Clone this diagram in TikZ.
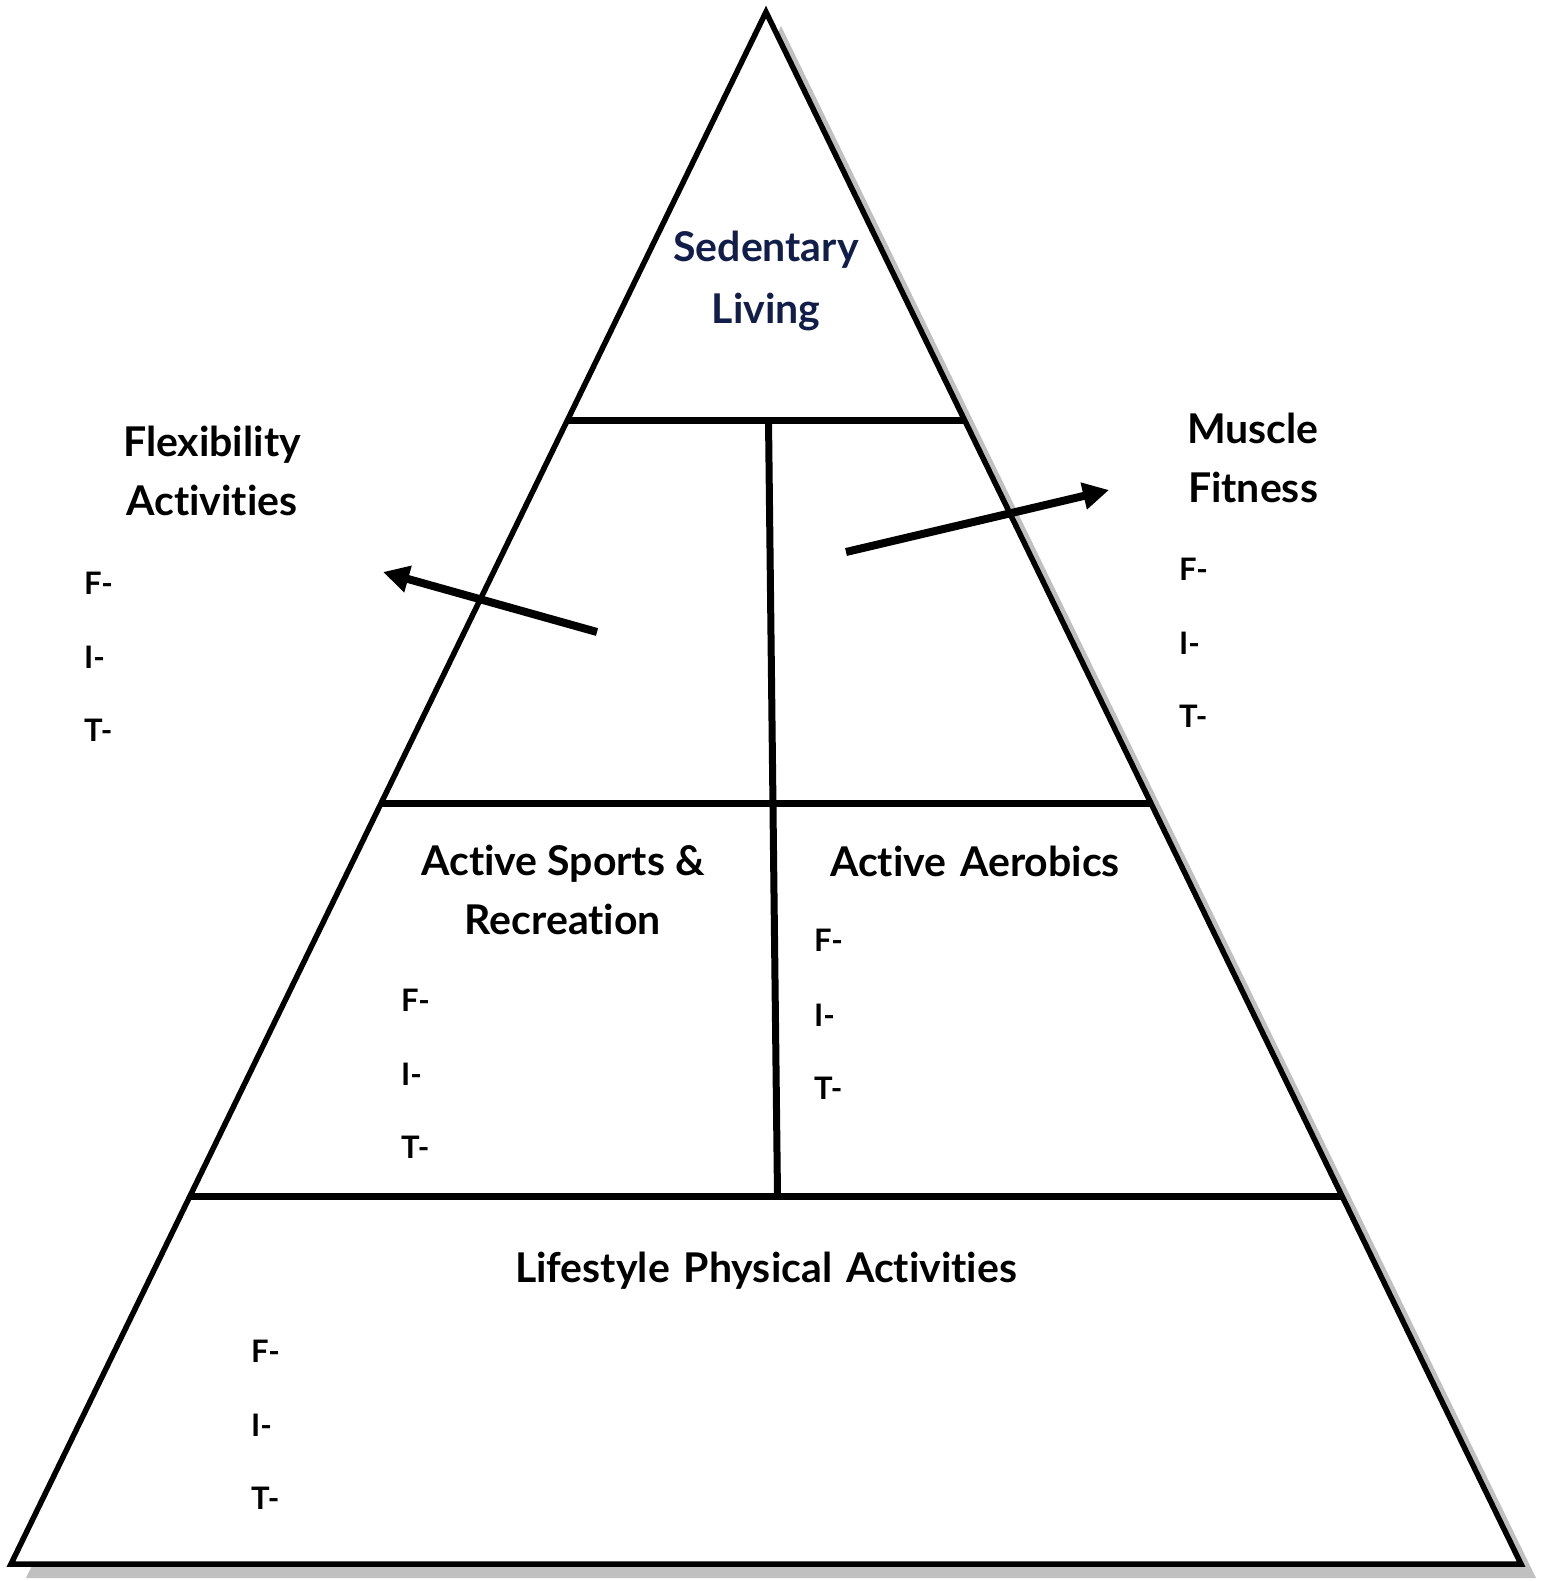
\documentclass[tikz,border=0pt]{standalone}
\usepackage{fontspec}
\setmainfont[Ligatures={NoCommon}]{Lato}
\usetikzlibrary{arrows.meta,calc}
\definecolor{shadowgray}{RGB}{192,192,192}
\definecolor{navytext}{RGB}{18,30,74}
\begin{document}
\begin{tikzpicture}[x=1pt,y=-1pt,
  outline/.style={line width=5.5pt,line join=miter},
  divider/.style={line width=7pt},
  arr/.style={line width=8pt,-{Triangle[length=26pt,width=26pt]}},
  head/.style={font=\bfseries\fontsize{41}{47}\selectfont,align=center,inner sep=0pt},
  fitl/.style={font=\bfseries\fontsize{31}{34}\selectfont,anchor=west,inner sep=0pt}]
\useasboundingbox (0,0) rectangle (1540,1581);
\coordinate (A) at (766,12);
\coordinate (L) at (11,1564);
\coordinate (R) at (1521,1564);
% shadow
\fill[shadowgray] ([shift={(15,14)}]A) -- ([shift={(15,14)}]L) -- ([shift={(15,14)}]R) -- cycle;
\fill[white] (A) -- (L) -- (R) -- cycle;
% dividers
\coordinate (l1) at ($(A)!0.2629!(L)$);
\coordinate (r1) at ($(A)!0.2629!(R)$);
\coordinate (l2) at ($(A)!0.5103!(L)$);
\coordinate (r2) at ($(A)!0.5103!(R)$);
\coordinate (l3) at ($(A)!0.7629!(L)$);
\coordinate (r3) at ($(A)!0.7629!(R)$);
\coordinate (vt) at (768.5,420);
\coordinate (vb) at (777.5,1196);
\draw[divider] (l1) -- (r1);
\draw[divider] (l2) -- (r2);
\draw[divider] (l3) -- (r3);
\draw[divider] (vt) -- (vb);
\draw[outline] (A) -- (L) -- (R) -- cycle;
% arrows
\coordinate (fa) at (597,632);
\coordinate (fb) at (383,572);
\coordinate (ma) at (846,552);
\coordinate (mb) at (1109,490);
\draw[arr] (fa) -- (fb);
\draw[arr] (ma) -- (mb);
% texts
\node[head,text=navytext,font=\bfseries\fontsize{41}{58}\selectfont] (sed) at (766,281) {Sedentary\\[4pt]Living};
\node[head] (flex) at (212,471) {Flexibility\\[12pt]Activities};
\node[fitl] (f1) at (84,583) {F-};
\node[fitl] (i1) at (84,657) {I-};
\node[fitl] (t1) at (84,730) {T-};
\node[head] (mus) at (1253,458) {Muscle\\[12pt]Fitness};
\node[fitl] (f2) at (1179,569) {F-};
\node[fitl] (i2) at (1179,643) {I-};
\node[fitl] (t2) at (1179,716) {T-};
\node[head] (spo) at (563,890) {Active Sports \&\\[12pt]Recreation};
\node[fitl] (f3) at (401,1000) {F-};
\node[fitl] (i3) at (401,1074) {I-};
\node[fitl] (t3) at (401,1147) {T-};
\node[head] (aer) at (975,861) {Active\hspace{4pt} Aerobics};
\node[fitl] (f4) at (814,940) {F-};
\node[fitl] (i4) at (814,1015) {I-};
\node[fitl] (t4) at (814,1088) {T-};
\node[head] (life) at (766,1271) {Lifestyle\hspace{4pt} Physical\hspace{4pt} Activities};
\node[fitl] (f5) at (251,1351) {F-};
\node[fitl] (i5) at (251,1425) {I-};
\node[fitl] (t5) at (251,1498) {T-};
\end{tikzpicture}
\end{document}
